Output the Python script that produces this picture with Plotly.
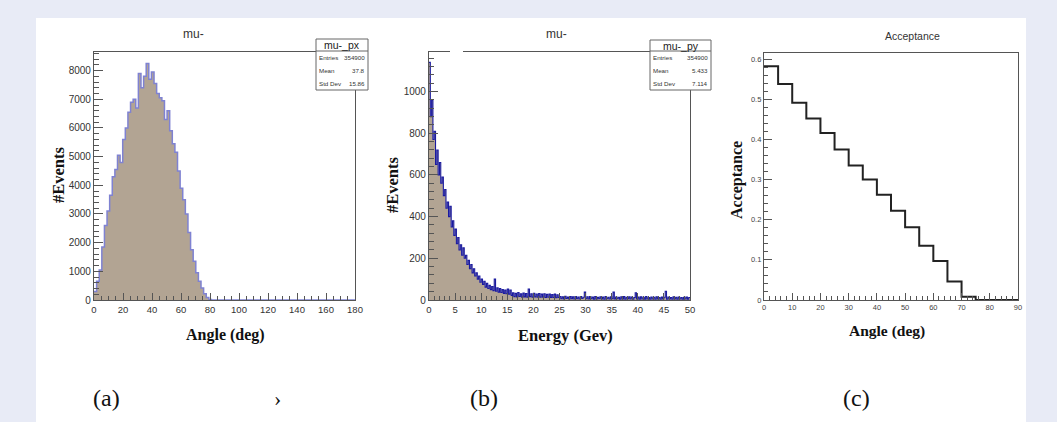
import plotly.graph_objects as go

W, H = 1057, 422

# ---------------- data ----------------
# (a) angle histogram, bin width 1.8 deg, 100 bins on 0-180
angle_bin_width = 1.8
angle_counts = [300, 650, 1050, 1850, 2600, 3100, 3650, 4300, 4550, 5050,
                4800, 5600, 6000, 6550, 6900, 7000, 6700, 7900, 7400, 7800,
                8250, 7700, 7950, 7550, 7200, 7050, 6950, 6300, 6600, 5900,
                5450, 5150, 4500, 3900, 3500, 3000, 2350, 1750, 1350, 950,
                650, 420, 220, 90, 20] + [0] * 55

# (b) energy histogram, bin width 0.25 GeV, 200 bins on 0-50
energy_bin_width = 0.25
energy_counts = [
    1140, 880, 960, 770, 810, 650, 720, 600, 660, 560, 590, 500, 530, 440, 470, 400,
    450, 350, 380, 310, 340, 270, 300, 240, 265, 215, 250, 200, 215, 170, 190, 150,
    170, 130, 150, 115, 130, 100, 115, 85, 100, 75, 90, 62, 80, 55, 70, 50,
    65, 45, 100, 42, 58, 38, 55, 36, 50, 32, 48, 30, 52, 28, 48, 22,
    34, 16, 32, 15, 36, 17, 30, 14, 33, 15,
    31, 14, 53, 16, 30, 14, 32, 15, 29, 13,
    31, 14, 28, 13, 30, 12, 27, 13, 29, 12,
    26, 12, 28, 11, 25, 12,
    17, 6, 15, 5, 18, 7, 14, 5, 16, 6,
    15, 5, 17, 6, 14, 5, 16, 7, 13, 38,
    6, 15, 5, 16, 6, 14, 4, 17, 5, 13,
    6, 15, 5, 14, 4, 16, 6, 13, 5, 15,
    6, 38, 5, 14, 6, 13, 4, 15, 5, 16,
    4, 13, 6, 15, 5, 14, 4, 12, 35, 5,
    14, 4, 15, 5, 13, 4, 16, 5, 12, 4,
    14, 5, 13, 4, 15, 5, 12, 4, 14, 5,
    13, 42, 4, 14, 5, 12, 4, 15, 5, 13,
    4, 14, 5, 12, 4, 13, 5, 14, 4, 12,
]

# (c) acceptance vs angle, bin width 5 deg on 0-90
acc_bin_width = 5
acceptance = [0.582, 0.538, 0.491, 0.452, 0.416, 0.375, 0.335, 0.300, 0.262,
              0.222, 0.181, 0.135, 0.097, 0.046, 0.008, 0.0, 0.0, 0.0]

stats_a = [("Entries", "354900"), ("Mean", "37.8"), ("Std Dev", "15.86")]
stats_b = [("Entries", "354900"), ("Mean", "5.433"), ("Std Dev", "7.114")]


def step_xy(counts, width):
    xs = [i * width for i in range(len(counts) + 1)]
    ys = list(counts) + [counts[-1]]
    return xs, ys


def px(x):
    return x / W


def py(y):
    return 1 - y / H


BG = "#e8ebf6"
FILL = "#b2a493"

fig = go.Figure()

xa, ya = step_xy(angle_counts, angle_bin_width)
fig.add_trace(go.Scatter(x=xa, y=ya, mode="lines", line=dict(shape="hv", color="#7f82d2", width=1.5),
                         fill="tozeroy", fillcolor=FILL, xaxis="x", yaxis="y", hoverinfo="skip"))

xb, yb = step_xy(energy_counts, energy_bin_width)
fig.add_trace(go.Scatter(x=xb, y=yb, mode="lines", line=dict(shape="hv", color="#1a1aa0", width=1.1),
                         fill="tozeroy", fillcolor=FILL, xaxis="x2", yaxis="y2", hoverinfo="skip"))

xc, yc = step_xy(acceptance, acc_bin_width)
fig.add_trace(go.Scatter(x=xc, y=yc, mode="lines", line=dict(shape="hv", color="#222222", width=2),
                         xaxis="x3", yaxis="y3", hoverinfo="skip"))

xfont = dict(family="Liberation Sans, Arial", size=9.5, color="#333333")
yfont = dict(family="Liberation Sans, Arial", size=10, color="#333333")
tickfont_c = dict(family="Liberation Sans, Arial", size=7.5, color="#444444")


def axis(domain, rng, dtick, mdtick, anchor, font, ticklen=8):
    return dict(domain=domain, range=rng, anchor=anchor, showgrid=False, zeroline=False,
                showline=True, mirror=True, linecolor="#555555", linewidth=1.2,
                ticks="inside", ticklen=ticklen, tickcolor="#555555", tickfont=font,
                dtick=dtick, tick0=0, automargin=False,
                minor=dict(ticks="inside", ticklen=ticklen / 2, dtick=mdtick, tick0=0, tickcolor="#555555"),
                fixedrange=True)


ya_dom = [py(300), py(52)]
fig.update_layout(
    width=W, height=H, autosize=False,
    margin=dict(l=0, r=0, t=0, b=0, pad=0, autoexpand=False),
    paper_bgcolor=BG, plot_bgcolor="white",
    showlegend=False,
    xaxis=axis([px(94), px(355)], [0, 180], 20, 5, "y", xfont, ticklen=7),
    yaxis=axis(ya_dom, [0, 8650], 1000, 200, "x", yfont, ticklen=9),
    xaxis2=axis([px(429), px(690)], [0, 50], 5, 1, "y2", xfont, ticklen=7),
    yaxis2=axis(ya_dom, [0, 1190], 200, 40, "x2", yfont, ticklen=9),
    xaxis3=axis([px(764), px(1018)], [0, 90], 10, 2, "y3", tickfont_c, ticklen=7),
    yaxis3=axis([py(300), py(53)], [0, 0.615], 0.1, 0.02, "x3", tickfont_c, ticklen=8),
)

shapes = [dict(type="rect", xref="paper", yref="paper", x0=px(36), x1=px(1026), y0=py(422), y1=py(18),
               fillcolor="white", line=dict(width=0), layer="below"),
          dict(type="rect", xref="paper", yref="paper", x0=px(450), x1=px(463), y0=py(55), y1=py(49),
               fillcolor="white", line=dict(width=0), layer="above")]
annotations = []


def ann(x, y, text, size, family="Liberation Sans, Arial", color="#222222", xanchor="center",
        bold=False, angle=0):
    if bold:
        text = "<b>" + text + "</b>"
    annotations.append(dict(x=px(x), y=py(y), xref="paper", yref="paper", text=text, showarrow=False,
                            xanchor=xanchor, yanchor="middle", textangle=angle, borderpad=0,
                            font=dict(family=family, size=size, color=color)))


def stats_box(x0, x1, y0, y1, yh, title, rows):
    shapes.append(dict(type="rect", xref="paper", yref="paper", x0=px(x0), x1=px(x1), y0=py(y1), y1=py(y0),
                       fillcolor="white", line=dict(color="#666666", width=1), layer="above"))
    shapes.append(dict(type="line", xref="paper", yref="paper", x0=px(x0), x1=px(x1), y0=py(yh), y1=py(yh),
                       line=dict(color="#666666", width=1), layer="above"))
    ann((x0 + x1) / 2, (y0 + yh) / 2 + 0.5, title, 10.5)
    step = (y1 - yh) / len(rows)
    for i, (k, v) in enumerate(rows):
        yy = yh + step * (i + 0.5)
        ann(x0 + 2, yy, k, 6.2, xanchor="left", color="#333333")
        ann(x1 - 2, yy, v, 6.2, xanchor="right", color="#333333")


stats_box(316, 368, 39, 90, 51, "mu-_px", stats_a)
stats_box(650, 711, 40, 90, 51, "mu-_py", stats_b)

# panel titles
ann(193, 34, "mu-", 12, color="#333333")
ann(556, 34, "mu-", 12, color="#333333")
ann(912, 36, "Acceptance", 10.5, color="#333333")

# axis titles
serif = "Liberation Serif, Times New Roman, serif"
ann(225, 335, "Angle (deg)", 16, family=serif, bold=True, color="#111111")
ann(565, 335, "Energy (Gev)", 16.5, family=serif, bold=True, color="#111111")
ann(887, 331, "Angle (deg)", 15.5, family=serif, bold=True, color="#111111")
ann(58, 175, "#Events", 16.5, family=serif, bold=True, color="#111111", angle=-90)
ann(393, 185, "#Events", 16.5, family=serif, bold=True, color="#111111", angle=-90)
ann(737, 180, "Acceptance", 16, family=serif, bold=True, color="#111111", angle=-90)

# panel labels
ann(106, 398, "(a)", 24, family=serif, color="#111111")
ann(277, 398, "›", 22, family=serif, color="#111111")
ann(484, 398, "(b)", 24, family=serif, color="#111111")
ann(856, 398, "(c)", 24, family=serif, color="#111111")

fig.update_layout(shapes=shapes, annotations=annotations)
fig.write_html(
    "out.html",
    config={"displayModeBar": False, "responsive": False},
    post_script=("var gd=document.getElementById('{plot_id}');"
                 "gd.style.position='fixed';gd.style.left='0px';gd.style.top='0px';"
                 "document.body.style.margin='0';document.body.style.background='" + BG + "';"
                 "document.documentElement.style.overflow='hidden';"),
)
